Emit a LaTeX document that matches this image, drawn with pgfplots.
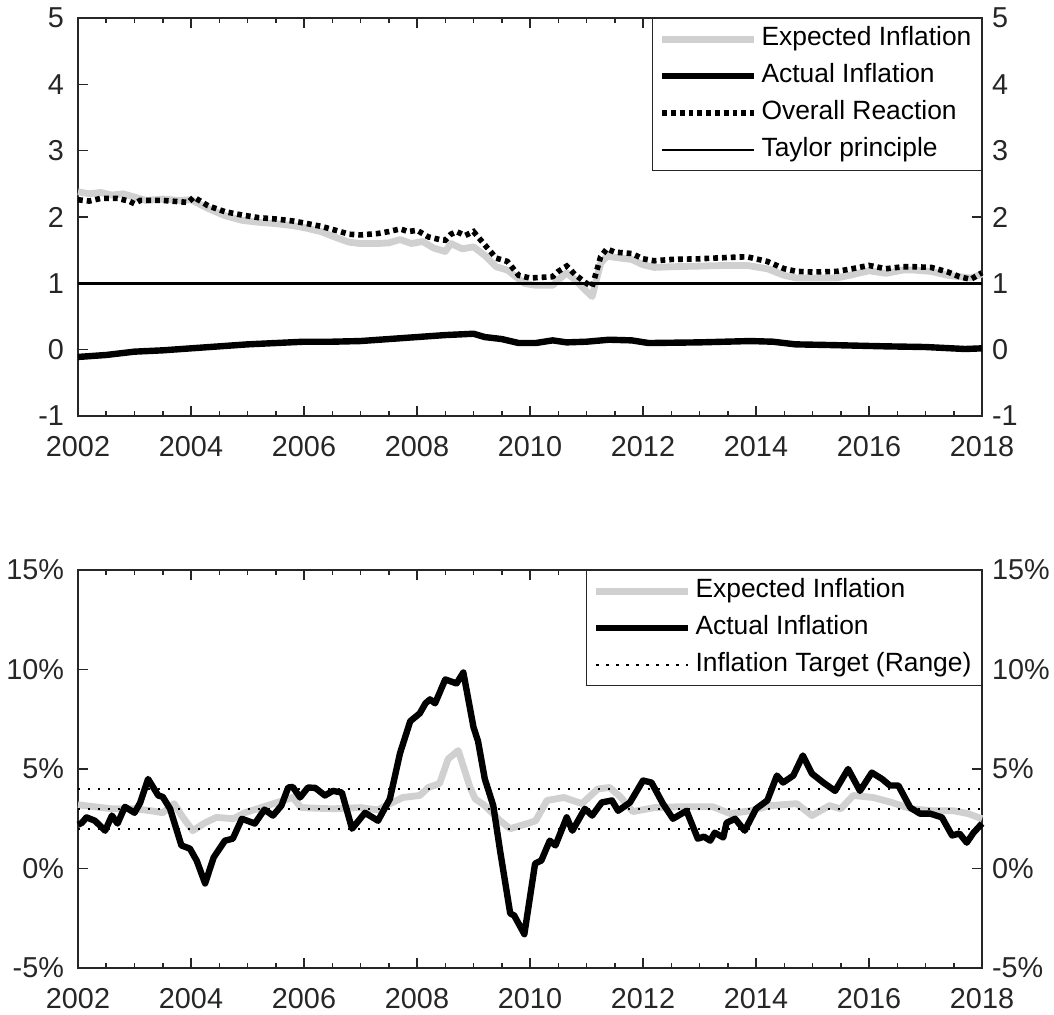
\documentclass[border=0pt]{standalone}
\usepackage{fontspec}
\setmainfont{Liberation Sans}
\usepackage{pgfplots}
\pgfplotsset{compat=1.18}
\definecolor{lg}{RGB}{208,208,208}
\definecolor{ax}{RGB}{38,38,38}
\pgfplotsset{
  base/.style={
    scale only axis, width=452pt, height=199pt,
    xmin=2002, xmax=2018,
    xtick={2002,2004,2006,2008,2010,2012,2014,2016,2018},
    xticklabels={2002,2004,2006,2008,2010,2012,2014,2016,2018},
    minor x tick num=3,
    tick align=inside, major tick length=5pt, minor tick length=2.5pt,
    axis line style={ax, line width=0.75pt},
    every tick/.style={ax, line width=0.75pt},
    tick label style={font=\fontsize{14.4}{16}\selectfont, text=ax},
    xticklabel style={yshift=-6.5pt},
    yticklabel style={xshift=-3.5pt},
    clip=false,
  },
  rightax/.style={
    scale only axis, width=452pt, height=199pt,
    xmin=2002, xmax=2018,
    hide x axis, axis y line*=right,
    y axis line style={draw=none},
    major tick length=0pt,
    tick label style={font=\fontsize{14.4}{16}\selectfont, text=ax},
    yticklabel style={xshift=1.5pt},
  },
  leg/.style={
    legend image code/.code={\draw[##1] (0pt,0pt) -- (46pt,0pt);},
    legend cell align=left,
    legend style={at={(1,1)}, anchor=north east, draw=ax, line width=0.6pt, fill=white,
      font=\fontsize{13.2}{15}\selectfont, inner xsep=3pt, inner ysep=1pt,
      nodes={inner sep=2pt, text height=10.5pt, text depth=4pt},
      row sep=0pt,
      /tikz/every even column/.append style={column sep=1pt}},
  },
}
\begin{document}
\begin{tikzpicture}
% ---------------- Top panel ----------------
\begin{axis}[base, leg, at={(0pt,276pt)}, anchor=south west,
  ymin=-1, ymax=5, ytick={-1,0,1,2,3,4,5}, yticklabels={-1,0,1,2,3,4,5}]
\addplot[lg, line width=3.4pt, line join=round] coordinates {
(2002.0,2.38) (2002.2,2.35) (2002.4,2.37) (2002.6,2.33) (2002.8,2.35) (2003.0,2.30)
(2003.2,2.25) (2003.5,2.27) (2003.8,2.25) (2004.0,2.26) (2004.3,2.13) (2004.6,2.02)
(2004.9,1.95) (2005.2,1.92) (2005.5,1.90) (2005.8,1.87) (2006.0,1.84) (2006.3,1.78)
(2006.6,1.68) (2006.8,1.62) (2007.0,1.60) (2007.3,1.60) (2007.5,1.61) (2007.7,1.66)
(2007.9,1.60) (2008.1,1.63) (2008.3,1.53) (2008.5,1.48) (2008.6,1.60) (2008.8,1.52)
(2009.0,1.55) (2009.2,1.42) (2009.4,1.25) (2009.6,1.20) (2009.9,1.00) (2010.1,0.97)
(2010.4,0.97) (2010.5,1.05) (2010.65,1.16) (2010.8,1.05) (2011.0,0.88) (2011.1,0.80)
(2011.25,1.30) (2011.36,1.41) (2011.6,1.38) (2011.8,1.36) (2012.0,1.28) (2012.2,1.24)
(2012.5,1.25) (2013.0,1.26) (2013.5,1.27) (2013.84,1.27) (2014.2,1.22) (2014.5,1.12)
(2014.72,1.08) (2015.0,1.08) (2015.43,1.08) (2015.7,1.13) (2016.0,1.19) (2016.3,1.15)
(2016.6,1.20) (2016.8,1.20) (2017.1,1.18) (2017.4,1.12) (2017.6,1.10) (2017.8,1.08)
(2018.0,1.14)};
\addlegendentry{Expected Inflation}
\addplot[black, line width=3.2pt, line join=round] coordinates {
(2002.0,-0.11) (2002.5,-0.08) (2003.0,-0.03) (2003.5,-0.01) (2004.0,0.02) (2004.5,0.05)
(2005.0,0.08) (2005.5,0.10) (2006.0,0.12) (2006.5,0.12) (2007.0,0.13) (2007.5,0.16)
(2008.0,0.19) (2008.5,0.22) (2009.0,0.24) (2009.2,0.19) (2009.5,0.16) (2009.8,0.10)
(2010.1,0.10) (2010.4,0.14) (2010.65,0.11) (2011.0,0.12) (2011.4,0.15) (2011.8,0.14)
(2012.1,0.10) (2013.0,0.11) (2013.9,0.13) (2014.3,0.12) (2014.7,0.08) (2015.3,0.07)
(2016.3,0.05) (2017.0,0.04) (2017.7,0.01) (2018.0,0.02)};
\addlegendentry{Actual Inflation}
\addplot[black, line width=2.8pt, dash pattern=on 2.4pt off 2pt] coordinates {
(2002.0,2.26) (2002.2,2.24) (2002.4,2.28) (2002.7,2.28) (2002.9,2.24) (2003.0,2.20)
(2003.1,2.25) (2003.5,2.25) (2003.8,2.23) (2003.95,2.22) (2004.05,2.30) (2004.3,2.17)
(2004.6,2.08) (2004.9,2.03) (2005.2,1.99) (2005.5,1.97) (2005.8,1.94) (2006.0,1.91)
(2006.3,1.86) (2006.6,1.79) (2006.8,1.74) (2007.0,1.73) (2007.3,1.75) (2007.5,1.78)
(2007.7,1.82) (2007.85,1.78) (2008.0,1.80) (2008.2,1.70) (2008.4,1.66) (2008.5,1.65)
(2008.6,1.74) (2008.7,1.78) (2008.85,1.72) (2009.0,1.78) (2009.2,1.58) (2009.4,1.38)
(2009.6,1.33) (2009.8,1.12) (2010.0,1.08) (2010.4,1.10) (2010.5,1.18) (2010.65,1.26)
(2010.8,1.13) (2011.0,1.00) (2011.1,0.95) (2011.25,1.40) (2011.36,1.52) (2011.5,1.47)
(2011.8,1.45) (2012.0,1.37) (2012.2,1.34) (2012.5,1.36) (2013.0,1.37) (2013.5,1.39)
(2013.84,1.40) (2014.2,1.33) (2014.5,1.22) (2014.72,1.18) (2015.0,1.17) (2015.43,1.18)
(2015.7,1.22) (2016.0,1.27) (2016.3,1.22) (2016.6,1.25) (2016.8,1.25) (2017.1,1.24)
(2017.4,1.17) (2017.6,1.10) (2017.8,1.06) (2018.0,1.16)};
\addlegendentry{Overall Reaction}
\addplot[black, line width=1.3pt] coordinates {(2002,1) (2018,1)};
\addlegendentry{Taylor principle}
\end{axis}
\begin{axis}[rightax, at={(0pt,276pt)}, anchor=south west,
  ymin=-1, ymax=5, ytick={-1,0,1,2,3,4,5}, yticklabels={-1,0,1,2,3,4,5}]
\addplot[draw=none] coordinates {(2002,0)};
\end{axis}
% ---------------- Bottom panel ----------------
\begin{axis}[base, leg, at={(0pt,0pt)}, anchor=south west,
  ymin=-5, ymax=15, ytick={-5,0,5,10,15}, yticklabels={-5\%,0\%,5\%,10\%,15\%}]
\addplot[lg, line width=3.4pt, line join=round] coordinates {
(2002.0,3.2) (2002.3,3.1) (2002.6,3.0) (2003.0,3.0) (2003.3,2.9) (2003.5,2.8)
(2003.7,3.26) (2003.85,2.6) (2004.03,1.9) (2004.25,2.3) (2004.45,2.57) (2004.75,2.5)
(2004.95,2.8) (2005.35,3.16) (2005.8,3.57) (2005.95,3.06) (2006.5,3.0) (2007.0,3.06)
(2007.3,2.95) (2007.75,3.57) (2008.05,3.67) (2008.2,4.07) (2008.4,4.27) (2008.55,5.5)
(2008.73,5.93) (2008.94,4.07) (2009.03,3.5) (2009.2,3.16) (2009.47,2.4) (2009.65,2.0)
(2010.0,2.3) (2010.1,2.4) (2010.3,3.42) (2010.6,3.57) (2010.92,3.26) (2011.2,4.0)
(2011.41,4.07) (2011.6,3.6) (2011.82,2.86) (2012.2,3.06) (2012.6,3.1) (2013.24,3.1)
(2013.54,2.76) (2013.9,2.9) (2014.25,3.16) (2014.72,3.26) (2014.99,2.66) (2015.3,3.16)
(2015.5,3.0) (2015.72,3.67) (2016.07,3.57) (2016.4,3.32) (2016.75,3.0) (2017.13,2.9)
(2017.5,2.9) (2017.75,2.76) (2018.0,2.5)};
\addlegendentry{Expected Inflation}
\addplot[black, line width=3.2pt, line join=round] coordinates {
(2002.0,2.2) (2002.07,2.3) (2002.15,2.57) (2002.3,2.4) (2002.48,1.9) (2002.6,2.66)
(2002.7,2.26) (2002.83,3.1) (2003.0,2.8) (2003.1,3.3) (2003.24,4.5) (2003.42,3.67)
(2003.5,3.6) (2003.63,3.0) (2003.83,1.16) (2003.98,1.0) (2004.1,0.4) (2004.25,-0.75)
(2004.4,0.55) (2004.6,1.4) (2004.74,1.5) (2004.9,2.5) (2005.13,2.26) (2005.3,2.96)
(2005.45,2.66) (2005.6,3.16) (2005.72,4.07) (2005.8,4.1) (2005.93,3.57) (2006.07,4.07)
(2006.2,4.05) (2006.37,3.67) (2006.51,3.9) (2006.67,3.82) (2006.85,2.0) (2007.08,2.8)
(2007.31,2.4) (2007.52,3.5) (2007.7,5.8) (2007.88,7.4) (2008.05,7.8) (2008.15,8.3)
(2008.23,8.5) (2008.32,8.3) (2008.5,9.5) (2008.7,9.3) (2008.82,9.85) (2009.0,7.1)
(2009.08,6.4) (2009.2,4.5) (2009.35,3.16) (2009.47,0.9) (2009.65,-2.26) (2009.72,-2.36)
(2009.9,-3.3) (2010.09,0.25) (2010.2,0.4) (2010.35,1.4) (2010.45,1.16) (2010.65,2.57)
(2010.75,1.9) (2010.97,3.0) (2011.1,2.66) (2011.27,3.32) (2011.45,3.42) (2011.56,2.9)
(2011.77,3.32) (2012.0,4.42) (2012.15,4.32) (2012.35,3.27) (2012.53,2.5) (2012.77,2.9)
(2012.97,1.5) (2013.08,1.6) (2013.19,1.4) (2013.27,1.8) (2013.42,1.56) (2013.48,2.3)
(2013.63,2.5) (2013.8,1.9) (2014.0,3.0) (2014.2,3.42) (2014.37,4.67) (2014.48,4.32)
(2014.66,4.67) (2014.83,5.68) (2014.99,4.77) (2015.19,4.32) (2015.4,3.9) (2015.63,5.0)
(2015.84,3.9) (2016.05,4.82) (2016.23,4.5) (2016.37,4.17) (2016.52,4.17) (2016.73,3.06)
(2016.9,2.76) (2017.08,2.76) (2017.29,2.57) (2017.47,1.66) (2017.6,1.76) (2017.73,1.3)
(2017.85,1.8) (2018.0,2.26)};
\addlegendentry{Actual Inflation}
\addplot[black, line width=1.2pt, dash pattern=on 1.2pt off 3.8pt] coordinates {(2002,4) (2018,4)};
\addlegendentry{Inflation Target (Range)}
\addplot[black, line width=1.2pt, dash pattern=on 1.2pt off 3.8pt, forget plot] coordinates {(2002,3) (2018,3)};
\addplot[black, line width=1.2pt, dash pattern=on 1.2pt off 3.8pt, forget plot] coordinates {(2002,2) (2018,2)};
\end{axis}
\begin{axis}[rightax, at={(0pt,0pt)}, anchor=south west,
  ymin=-5, ymax=15, ytick={-5,0,5,10,15}, yticklabels={-5\%,0\%,5\%,10\%,15\%}]
\addplot[draw=none] coordinates {(2002,0)};
\end{axis}
\pgfresetboundingbox
\path[use as bounding box] (-39pt,-23pt) rectangle (488pt,484pt);
\end{tikzpicture}
\end{document}
